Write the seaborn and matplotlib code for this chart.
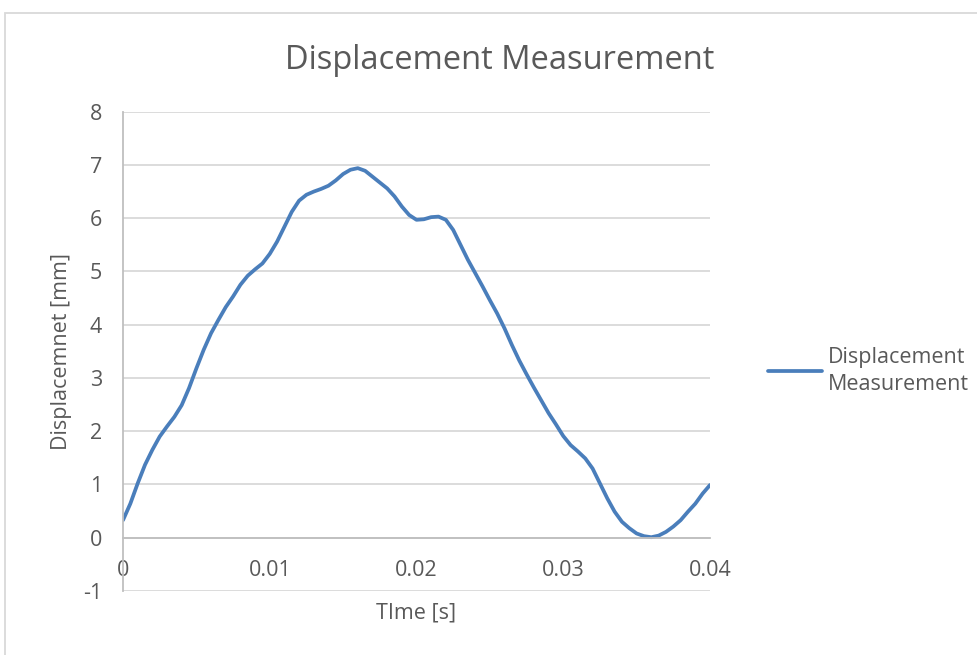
import numpy as np
import pandas as pd
import matplotlib
matplotlib.use("Agg")
import matplotlib.pyplot as plt
import seaborn as sns
from matplotlib.patches import Rectangle

# Dados: tempo em ms (passo de 0.5 ms), deslocamento em mm
tempo_ms = np.arange(0, 40.5, 0.5)
deslocamento = [0.33, 0.64, 1.02, 1.37, 1.65, 1.90, 2.09, 2.27, 2.49, 2.81,
                3.18, 3.53, 3.84, 4.09, 4.33, 4.53, 4.75, 4.92, 5.04, 5.15,
                5.33, 5.56, 5.84, 6.12, 6.33, 6.44, 6.50, 6.55, 6.61, 6.71,
                6.83, 6.91, 6.94, 6.89, 6.78, 6.67, 6.56, 6.41, 6.22, 6.06,
                5.97, 5.98, 6.02, 6.03, 5.97, 5.78, 5.50, 5.22, 4.97, 4.72,
                4.46, 4.21, 3.93, 3.62, 3.33, 3.07, 2.82, 2.58, 2.34, 2.13,
                1.91, 1.74, 1.62, 1.49, 1.30, 1.02, 0.74, 0.49, 0.30, 0.18,
                0.08, 0.03, 0.01, 0.04, 0.11, 0.21, 0.33, 0.49, 0.64, 0.83,
                0.99]
x_ticks = [0, 0.01, 0.02, 0.03, 0.04]
x_tick_labels = ["0", "0.01", "0.02", "0.03", "0.04"]
y_ticks = [-1, 0, 1, 2, 3, 4, 5, 6, 7, 8]

df = pd.DataFrame({"tempo": tempo_ms / 1000, "deslocamento": deslocamento})

sns.set_style("white")
plt.rcParams["font.family"] = ["Open Sans", "DejaVu Sans"]
plt.rcParams["axes.unicode_minus"] = False

texto = "#595959"
grade = "#d9d9d9"
eixo = "#bfbfbf"
fs = 15.5

W, H = 978, 655
fig = plt.figure(figsize=(W / 100, H / 100), dpi=100)
ax = fig.add_axes([123 / W, 1 - 591 / H, 587 / W, 479.3 / H])

sns.lineplot(data=df, x="tempo", y="deslocamento", ax=ax, color="#4a7ebb",
             linewidth=2.7, label="Displacement\nMeasurement",
             solid_joinstyle="round", solid_capstyle="round")

ax.set_xlim(0, 0.04)
ax.set_ylim(-1, 8)
ax.set_xticks(x_ticks)
ax.set_xticklabels(x_tick_labels)
ax.set_yticks(y_ticks)
ax.yaxis.grid(True, color=grade, linewidth=1.3)
ax.set_axisbelow(True)

for s in ["top", "right"]:
    ax.spines[s].set_visible(False)
ax.spines["left"].set_color(eixo)
ax.spines["left"].set_linewidth(1.3)
ax.spines["bottom"].set_position(("data", 0))
ax.spines["bottom"].set_color(eixo)
ax.spines["bottom"].set_linewidth(1.3)

ax.tick_params(axis="x", length=0, pad=16, labelsize=fs, labelcolor=texto)
ax.tick_params(axis="y", length=0, pad=15, labelsize=fs, labelcolor=texto)

ax.set_xlabel("TIme [s]", fontsize=fs, color=texto)
ax.set_ylabel("Displacemnet [mm]", fontsize=fs, color=texto)
ax.xaxis.set_label_coords(0.5, -0.024)
ax.yaxis.set_label_coords(-0.087, 0.5)

fig.text(500 / W, 1 - 69 / H, "Displacement Measurement", fontsize=23.5,
         color=texto, ha="center", va="baseline")

leg = ax.legend(loc="center left", bbox_to_anchor=(768 / W, 1 - 371 / H),
                bbox_transform=fig.transFigure, frameon=False, fontsize=fs,
                handlelength=2.5, handletextpad=0.3, borderpad=0,
                borderaxespad=0)
for t in leg.get_texts():
    t.set_color(texto)
    t.set_linespacing(1.35)

# borda da área do gráfico (estilo Excel)
fig.add_artist(Rectangle((5 / W, -0.2), 2, 1.2 - 13 / H,
                         transform=fig.transFigure, fill=False,
                         edgecolor=grade, linewidth=1.3))

fig.savefig("out.png", dpi=100)
